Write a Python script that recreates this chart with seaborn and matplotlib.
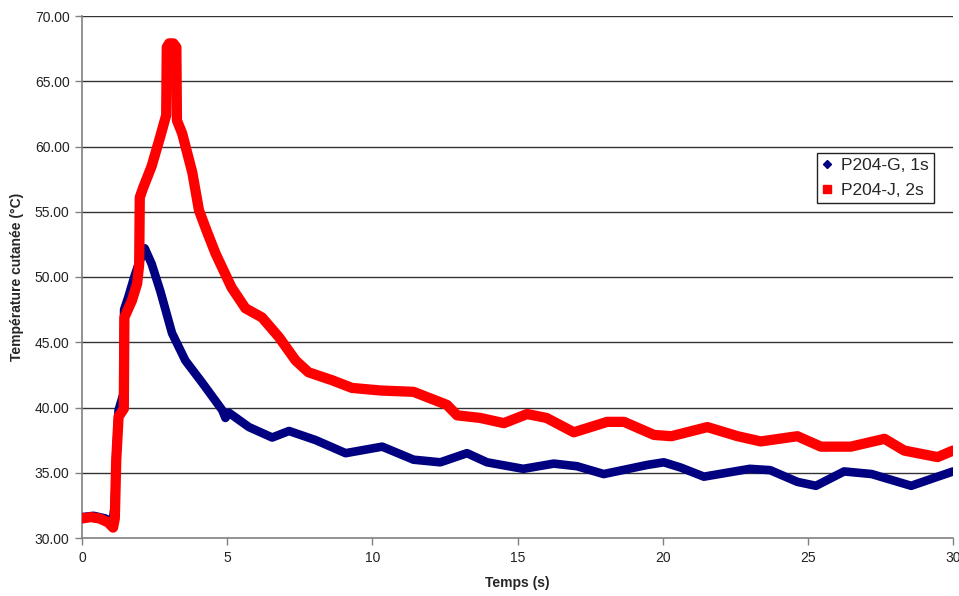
import matplotlib
matplotlib.use("Agg")
import matplotlib.pyplot as plt
from matplotlib.lines import Line2D
import seaborn as sns
import pandas as pd

# ---- data ----
time_j = [0, 0.3, 0.6, 0.9, 1.07, 1.13, 1.18, 1.26, 1.44, 1.46, 1.72, 1.9, 1.97, 1.99,
          2.1, 2.4, 2.7, 2.9, 2.92, 3.0, 3.15, 3.25, 3.27, 3.45, 3.8, 4.03, 4.3, 4.6,
          5.15, 5.63, 6.2, 6.78, 7.36, 7.8, 8.6, 9.3, 10.3, 11.42, 11.88, 12.57, 12.92,
          13.72, 14.53, 15.33, 16.0, 16.94, 18.09, 18.67, 19.7, 20.3, 21.54, 22.58, 23.38,
          24.64, 25.45, 26.48, 27.64, 28.32, 29.47, 30.0]
temp_j = [31.5, 31.6, 31.5, 31.2, 30.8, 31.5, 36.0, 39.3, 39.9, 46.9, 48.2, 49.5, 51.0, 56.1,
          56.8, 58.5, 60.8, 62.4, 67.6, 67.9, 67.9, 67.6, 62.0, 61.0, 58.0, 55.1, 53.5, 51.8,
          49.2, 47.6, 46.9, 45.4, 43.6, 42.7, 42.1, 41.5, 41.3, 41.2, 40.8, 40.2, 39.4,
          39.2, 38.8, 39.5, 39.2, 38.1, 38.9, 38.9, 37.9, 37.8, 38.5, 37.8, 37.4,
          37.8, 37.0, 37.0, 37.6, 36.7, 36.2, 36.7]

time_g = [0, 0.4, 0.8, 1.05, 1.13, 1.18, 1.26, 1.42, 1.45, 1.6, 1.8, 1.95, 2.16, 2.4, 2.7,
          3.1, 3.56, 4.14, 4.83, 4.94, 5.06, 5.75, 6.55, 7.13, 8.05, 9.08, 10.34, 11.42,
          12.34, 13.26, 13.95, 15.2, 16.25, 17.05, 17.97, 19.47, 20.04, 20.62, 21.42, 23.0,
          23.7, 24.64, 25.28, 26.25, 27.2, 28.56, 30.0]
temp_g = [31.6, 31.7, 31.5, 31.2, 32.5, 36.5, 39.8, 41.0, 47.5, 48.5, 50.0, 51.0, 52.2, 51.0, 48.9,
          45.7, 43.6, 41.9, 39.8, 39.2, 39.6, 38.5, 37.7, 38.2, 37.5, 36.5, 37.0, 36.0,
          35.8, 36.5, 35.8, 35.3, 35.7, 35.5, 34.9, 35.6, 35.8, 35.4, 34.7, 35.3,
          35.2, 34.3, 34.0, 35.1, 34.9, 34.0, 35.1]

series_names = ["P204-G, 1s", "P204-J, 2s"]
x_ticks = [0, 5, 10, 15, 20, 25, 30]
y_ticks = [30, 35, 40, 45, 50, 55, 60, 65, 70]

df_g = pd.DataFrame({"t": time_g, "T": temp_g})
df_j = pd.DataFrame({"t": time_j, "T": temp_j})

sns.set_theme(style="white")
plt.rcParams["font.family"] = ["Liberation Sans", "DejaVu Sans"]

fig = plt.figure(figsize=(9.59, 5.96), dpi=100)
ax = fig.add_axes([82 / 959, 58 / 596, 871 / 959, 522 / 596])

for y in y_ticks[1:]:
    ax.axhline(y, color="#333333", lw=1.0, zorder=1)

sns.lineplot(data=df_g, x="t", y="T", ax=ax, color="#000080", lw=6.2, sort=False,
             estimator=None, zorder=3, solid_joinstyle="round", solid_capstyle="round")
sns.lineplot(data=df_j, x="t", y="T", ax=ax, color="#FF0000", lw=7.4, sort=False,
             estimator=None, zorder=4, solid_joinstyle="round", solid_capstyle="round")

ax.set_xlim(0, 30)
ax.set_ylim(30, 70)
ax.set_xticks(x_ticks)
ax.set_xticklabels([str(v) for v in x_ticks])
ax.set_yticks(y_ticks)
ax.set_yticklabels([f"{v:.2f}" for v in y_ticks])
ax.tick_params(axis="both", direction="out", length=5, width=1, color="#808080",
               labelsize=10, labelcolor="#222222", pad=4, left=True, bottom=True)

for side in ["top", "right"]:
    ax.spines[side].set_visible(False)
for side in ["left", "bottom"]:
    ax.spines[side].set_color("#808080")
    ax.spines[side].set_linewidth(1.2)

ax.set_xlabel("Temps (s)", fontsize=10, fontweight="bold", labelpad=8)
ax.set_ylabel("Température cutanée (°C)", fontsize=10, fontweight="bold", labelpad=8)

handles = [Line2D([], [], color="#000080", marker="D", ls="none", markersize=4.5),
           Line2D([], [], color="#FF0000", marker="s", ls="none", markersize=5.5)]
leg = ax.legend(handles, series_names, loc="upper right",
                bbox_to_anchor=((934 - 82) / 871, (538 - 153) / 522),
                fontsize=12.5, frameon=True, fancybox=False, framealpha=1,
                edgecolor="#222222", handlelength=0.6, handletextpad=0.5,
                borderpad=0.3, labelspacing=0.55, borderaxespad=0)
leg.get_frame().set_linewidth(1.0)

fig.savefig("out.png", dpi=100)
